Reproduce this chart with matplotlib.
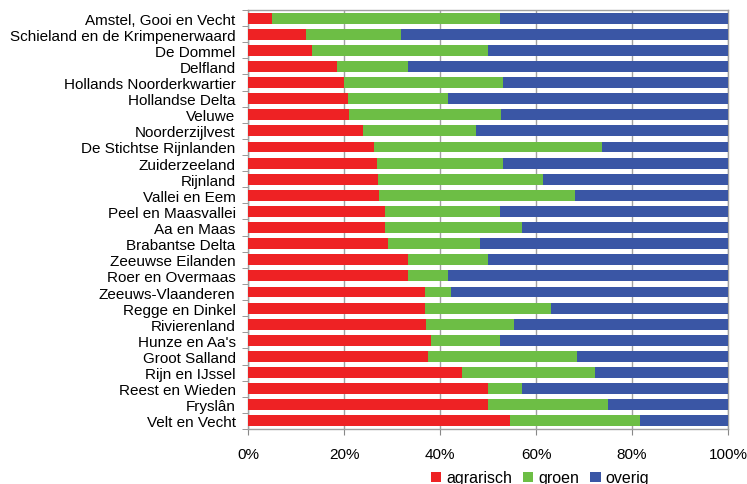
import matplotlib
matplotlib.use("Agg")
import matplotlib.pyplot as plt
import numpy as np

categories = ["Amstel, Gooi en Vecht", "Schieland en de Krimpenerwaard", "De Dommel",
              "Delfland", "Hollands Noorderkwartier", "Hollandse Delta", "Veluwe",
              "Noorderzijlvest", "De Stichtse Rijnlanden", "Zuiderzeeland", "Rijnland",
              "Vallei en Eem", "Peel en Maasvallei", "Aa en Maas", "Brabantse Delta",
              "Zeeuwse Eilanden", "Roer en Overmaas", "Zeeuws-Vlaanderen", "Regge en Dinkel",
              "Rivierenland", "Hunze en Aa's", "Groot Salland", "Rijn en IJssel",
              "Reest en Wieden", "Fryslân", "Velt en Vecht"]
agrarisch = [4.9, 12.1, 13.4, 18.5, 20.1, 20.9, 21.1, 23.9, 26.2, 26.8, 27.0, 27.3, 28.5,
             28.5, 29.1, 33.4, 33.4, 36.8, 36.8, 37.0, 38.1, 37.6, 44.5, 49.9, 49.9, 54.5]
groen = [47.5, 19.8, 36.5, 14.9, 33.1, 20.8, 31.6, 23.7, 47.6, 26.4, 34.4, 40.9, 23.9,
         28.6, 19.2, 16.5, 8.3, 5.4, 26.4, 18.5, 14.3, 31.0, 27.7, 7.1, 25.1, 27.2]
overig = [100 - a - g for a, g in zip(agrarisch, groen)]
xticklabels = ["0%", "20%", "40%", "60%", "80%", "100%"]

c_red = "#EE2224"
c_green = "#6DBE45"
c_blue = "#3A56A5"

plt.rcParams['font.family'] = ['Liberation Sans', 'DejaVu Sans']
fig = plt.figure(figsize=(7.47, 4.85), dpi=100)
ax = fig.add_axes([248/747, 1 - 430/485, (728-248)/747, (430-11)/485])

y = np.arange(len(categories))
h = 0.68
ax.barh(y, agrarisch, height=h, color=c_red, label="agrarisch", zorder=3)
ax.barh(y, groen, left=agrarisch, height=h, color=c_green, label="groen", zorder=3)
left2 = [a + g for a, g in zip(agrarisch, groen)]
ax.barh(y, overig, left=left2, height=h, color=c_blue, label="overig", zorder=3)

ax.set_xlim(0, 100)
ax.set_ylim(len(categories) - 0.5, -0.5)
ax.set_yticks(y)
ax.set_yticklabels(categories, fontsize=11)
ax.tick_params(axis='y', which='major', length=0, pad=9)
ax.set_yticks(np.arange(-0.5, len(categories), 1), minor=True)
ax.tick_params(axis='y', which='minor', length=4, color='#888888', direction='out')
ax.set_xticks([0, 20, 40, 60, 80, 100])
ax.set_xticklabels(xticklabels, fontsize=11)
ax.tick_params(axis='x', length=4, color='#888888', pad=9)
ax.grid(axis='x', color='#A0A0A0', linewidth=1, zorder=0)
for s in ax.spines.values():
    s.set_color('#A0A0A0')
    s.set_linewidth(1)

fig.legend(loc='center', bbox_to_anchor=(540/747, 1 - 479/485), ncol=3, frameon=False,
           fontsize=11.5, handlelength=0.65, handleheight=0.65, handletextpad=0.3,
           columnspacing=0.7, borderpad=0)

fig.savefig("out.png", dpi=100)
